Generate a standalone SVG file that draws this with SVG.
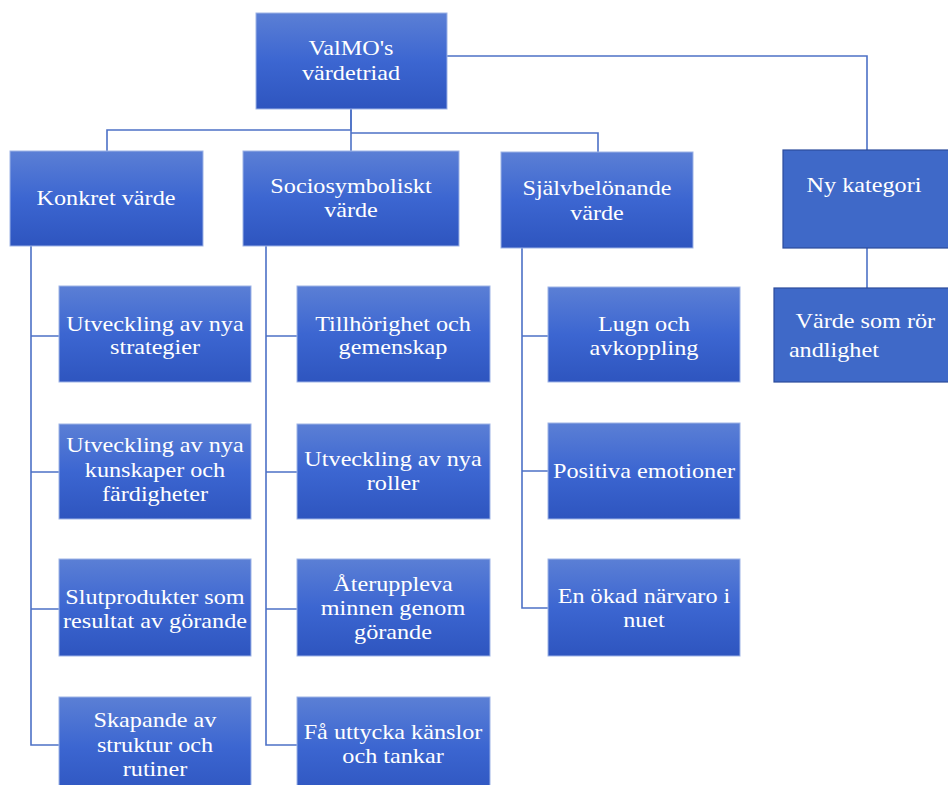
<svg xmlns="http://www.w3.org/2000/svg" width="948" height="785" viewBox="0 0 948 785">
<defs>
<linearGradient id="g" x1="0" y1="0" x2="0" y2="1">
<stop offset="0" stop-color="#5b7fd5"/>
<stop offset="0.5" stop-color="#3c66d1"/>
<stop offset="1" stop-color="#2e55bf"/>
</linearGradient>
<style>
.box{fill:url(#g);stroke:#9db3e6;stroke-width:1}
.flat{fill:#3f69c8;stroke:#2c4b9c;stroke-width:1.2}
.t{font-family:"Liberation Serif","Times New Roman",serif;font-size:22px;fill:#ffffff;text-anchor:middle}
.tl{font-family:"Liberation Serif","Times New Roman",serif;font-size:22px;fill:#ffffff}
.c{fill:none;stroke:#4d71c6;stroke-width:1.6}
</style>
</defs>
<rect width="948" height="785" fill="#ffffff"/>
<g id="connectors">
<path class="c" d="M351,109 V130 H107 V151"/>
<path class="c" d="M351,109 V151"/>
<path class="c" d="M351,133 H598 V152"/>
<path class="c" d="M447,56 H867 V150"/>
<path class="c" d="M867,248 V288"/>
<path class="c" d="M31,246 V745 H59 M31,336 H59 M31,472 H59 M31,609 H59"/>
<path class="c" d="M266,246 V745 H297 M266,336 H297 M266,472 H297 M266,609 H297"/>
<path class="c" d="M522,248 V608 H548 M522,336 H548 M522,471 H548"/>
</g>
<g id="root">
<rect class="box" x="256" y="13" width="191" height="96"/>
<g transform="matrix(1.1 0 0 1 -35.1 0)">
<text class="t" x="351" y="55">ValMO's</text>
<text class="t" x="351" y="80">värdetriad</text>
</g>
</g>
<g id="konkret">
<rect class="box" x="10" y="151" width="193" height="95"/>
<g transform="matrix(1.1 0 0 1 -10.6 0)">
<text class="t" x="106" y="205">Konkret värde</text>
</g>
</g>
<g id="socio">
<rect class="box" x="243" y="151" width="216" height="95"/>
<g transform="matrix(1.1 0 0 1 -35.1 0)">
<text class="t" x="351" y="193">Sociosymboliskt</text>
<text class="t" x="351" y="217">värde</text>
</g>
</g>
<g id="sjalv">
<rect class="box" x="501" y="152" width="192" height="96"/>
<g transform="matrix(1.1 0 0 1 -59.7 0)">
<text class="t" x="597" y="195">Självbelönande</text>
<text class="t" x="597" y="220">värde</text>
</g>
</g>
<g id="ny">
<rect class="flat" x="783" y="150" width="170" height="98"/>
<g transform="matrix(1.1 0 0 1 -86.4 0)">
<text class="t" x="864" y="192">Ny kategori</text>
</g>
</g>
<g id="andlighet">
<rect class="flat" x="774" y="288" width="179" height="94"/>
<g transform="matrix(1.1 0 0 1 -79 0)">
<text class="tl" x="795" y="328">Värde som rör</text>
<text class="tl" x="789" y="357">andlighet</text>
</g>
</g>
<g id="k1">
<rect class="box" x="59" y="286" width="192" height="96"/>
<g transform="matrix(1.1 0 0 1 -15.5 0)">
<text class="t" x="155" y="331">Utveckling av nya</text>
<text class="t" x="155" y="354">strategier</text>
</g>
</g>
<g id="k2">
<rect class="box" x="59" y="424" width="192" height="95"/>
<g transform="matrix(1.1 0 0 1 -15.5 0)">
<text class="t" x="155" y="452">Utveckling av nya</text>
<text class="t" x="155" y="477">kunskaper och</text>
<text class="t" x="155" y="501">färdigheter</text>
</g>
</g>
<g id="k3">
<rect class="box" x="59" y="559" width="192" height="97"/>
<g transform="matrix(1.1 0 0 1 -15.5 0)">
<text class="t" x="155" y="604">Slutprodukter som</text>
<text class="t" x="155" y="628">resultat av görande</text>
</g>
</g>
<g id="k4">
<rect class="box" x="59" y="697" width="192" height="100"/>
<g transform="matrix(1.1 0 0 1 -15.5 0)">
<text class="t" x="155" y="727">Skapande av</text>
<text class="t" x="155" y="752">struktur och</text>
<text class="t" x="155" y="776">rutiner</text>
</g>
</g>
<g id="s1">
<rect class="box" x="297" y="286" width="193" height="96"/>
<g transform="matrix(1.1 0 0 1 -39.3 0)">
<text class="t" x="393" y="331">Tillhörighet och</text>
<text class="t" x="393" y="354">gemenskap</text>
</g>
</g>
<g id="s2">
<rect class="box" x="297" y="424" width="193" height="95"/>
<g transform="matrix(1.1 0 0 1 -39.3 0)">
<text class="t" x="393" y="466">Utveckling av nya</text>
<text class="t" x="393" y="490">roller</text>
</g>
</g>
<g id="s3">
<rect class="box" x="297" y="559" width="193" height="97"/>
<g transform="matrix(1.1 0 0 1 -39.3 0)">
<text class="t" x="393" y="591">Återuppleva</text>
<text class="t" x="393" y="615">minnen genom</text>
<text class="t" x="393" y="639">görande</text>
</g>
</g>
<g id="s4">
<rect class="box" x="297" y="697" width="193" height="100"/>
<g transform="matrix(1.1 0 0 1 -39.3 0)">
<text class="t" x="393" y="739">Få uttycka känslor</text>
<text class="t" x="393" y="763">och tankar</text>
</g>
</g>
<g id="j1">
<rect class="box" x="548" y="287" width="192" height="95"/>
<g transform="matrix(1.1 0 0 1 -64.4 0)">
<text class="t" x="644" y="331">Lugn och</text>
<text class="t" x="644" y="355">avkoppling</text>
</g>
</g>
<g id="j2">
<rect class="box" x="548" y="423" width="192" height="96"/>
<g transform="matrix(1.1 0 0 1 -64.4 0)">
<text class="t" x="644" y="478">Positiva emotioner</text>
</g>
</g>
<g id="j3">
<rect class="box" x="548" y="559" width="192" height="97"/>
<g transform="matrix(1.1 0 0 1 -64.4 0)">
<text class="t" x="644" y="603">En ökad närvaro i</text>
<text class="t" x="644" y="627">nuet</text>
</g>
</g>
</svg>
